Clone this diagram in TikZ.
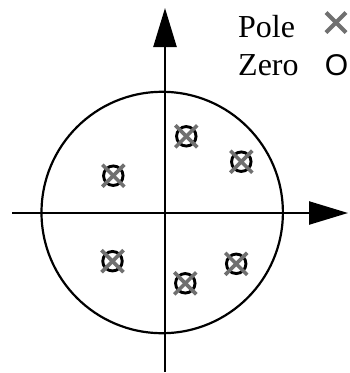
\documentclass[tikz,border=0pt]{standalone}
\usepackage{fontspec}
\setmainfont{Liberation Serif}
\newfontfamily\arialfont{Liberation Sans}
\usetikzlibrary{arrows.meta}
\definecolor{crossgray}{RGB}{112,112,112}
\begin{document}
\begin{tikzpicture}[x=1pt,y=-1pt,
  axisline/.style={line width=2.4pt,-{Triangle[length=39pt,width=23pt]}},
  unitcircle/.style={line width=2.2pt},
  zeromark/.style={circle,draw,line width=2.9pt,minimum size=19.5pt,inner sep=0pt},
  polex/.style={draw=crossgray,line width=3.6pt},
  legtext/.style={font=\fontsize{32}{36}\selectfont,inner sep=0pt,anchor=base west}]
\useasboundingbox (0,0) rectangle (349,373);
% axes
\coordinate (xl) at (12,213);
\coordinate (xr) at (348,213);
\coordinate (yb) at (165,372);
\coordinate (yt) at (165,8);
\node[circle,minimum size=241.4pt,inner sep=0pt,draw,unitcircle] (uc) at (162.2,212.5) {};
\draw[axisline] (xl) -- (xr);
\draw[axisline] (yb) -- (yt);
% poles and zeros
\foreach \n/\px/\py in {p1/186.3/136.3, p2/241.3/161.7, p3/113.3/175.7, p4/112.5/261.2, p5/185.3/283.3, p6/236.2/263.8}{
  \node[zeromark] (\n) at (\px,\py) {};
  \draw[polex] ([shift={(-11,-11)}]\n.center) -- ([shift={(11,11)}]\n.center);
  \draw[polex] ([shift={(-11,11)}]\n.center) -- ([shift={(11,-11)}]\n.center);
}
% legend
\node[legtext] (pole) at (238,37) {Pole};
\node[legtext] (zero) at (238,75) {Zero};
\coordinate (polemark) at (336,22.5);
\draw[polex,line width=4.2pt] ([shift={(-10,-10)}]polemark) -- ([shift={(10,10)}]polemark);
\draw[polex,line width=4.2pt] ([shift={(-10,10)}]polemark) -- ([shift={(10,-10)}]polemark);
\node[font={\arialfont\fontsize{30}{34}\selectfont},inner sep=0pt,anchor=base] (zeromarkleg) at (336.5,75) {O};
\end{tikzpicture}
\end{document}
